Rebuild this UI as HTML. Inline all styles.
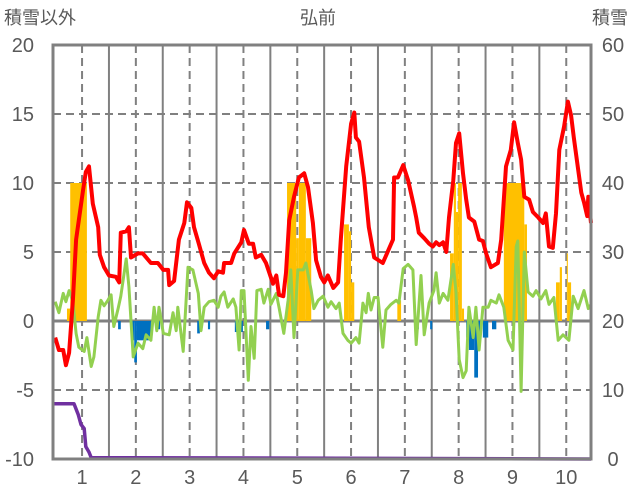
<!DOCTYPE html>
<html><head><meta charset="utf-8"><style>
html,body{margin:0;padding:0;background:#fff;}
svg{display:block;font-family:"Liberation Sans","Noto Sans CJK JP",sans-serif;}
</style></head><body>
<svg id="chart" width="636" height="501" viewBox="0 0 636 501">
<text x="40" y="24" font-size="18" text-anchor="middle" fill="#595959" font-family="'Liberation Sans','Noto Sans CJK JP',sans-serif">積雪以外</text>
<text x="318" y="24" font-size="18" text-anchor="middle" fill="#595959" font-family="'Liberation Sans','Noto Sans CJK JP',sans-serif">弘前</text>
<text x="610" y="24" font-size="18" text-anchor="middle" fill="#595959" font-family="'Liberation Sans','Noto Sans CJK JP',sans-serif">積雪</text>
<g id="grid"></g><g id="bars"></g><g id="lines"></g><g id="axes"></g>
</svg>
<script>
// ---- data ----
const xTicks = [1,2,3,4,5,6,7,8,9,10];
const leftTicks = [20,15,10,5,0,-5,-10];
const rightTicks = [60,50,40,30,20,10,0];
const redX = [0.50,0.57,0.65,0.70,0.76,0.83,0.89,0.94,1.02,1.07,1.13,1.20,1.30,1.33,1.41,1.50,1.63,1.69,1.72,1.82,1.87,1.91,2.04,2.13,2.28,2.41,2.51,2.60,2.62,2.71,2.80,2.90,2.95,3.03,3.08,3.17,3.27,3.36,3.45,3.53,3.62,3.64,3.77,3.83,3.96,4.01,4.10,4.18,4.23,4.33,4.42,4.48,4.55,4.61,4.66,4.74,4.79,4.85,4.94,5.03,5.13,5.20,5.29,5.35,5.44,5.50,5.57,5.67,5.76,5.81,5.91,6.00,6.06,6.09,6.15,6.24,6.33,6.43,6.59,6.69,6.78,6.80,6.87,6.97,7.06,7.17,7.21,7.26,7.36,7.45,7.52,7.58,7.64,7.71,7.77,7.82,7.90,7.95,8.01,8.08,8.14,8.19,8.29,8.38,8.45,8.51,8.60,8.73,8.79,8.88,8.97,9.03,9.10,9.16,9.22,9.31,9.38,9.48,9.57,9.62,9.68,9.75,9.81,9.87,9.96,10.03,10.09,10.14,10.28,10.33,10.39,10.41,10.46];
const redY = [-1.2,-2.1,-2.1,-3.2,-2.3,1.5,5.9,7.3,9.5,10.8,11.2,8.5,6.8,4.8,3.9,3.3,3.2,2.8,6.4,6.5,6.8,4.6,4.9,4.9,4.2,4.2,3.7,3.7,2.6,2.9,5.9,7.1,8.6,8.2,6.8,5.6,4.2,3.5,3.1,3.6,3.5,4.2,4.2,4.9,5.7,6.6,5.6,5.6,4.6,4.8,4.2,3.5,2.7,3.3,1.9,1.8,3.5,7.3,9.0,10.4,10.7,9.7,7.1,4.4,3.2,2.8,3.3,2.4,2.8,5.9,11.2,14.3,15.1,13.3,13.0,10.4,6.8,4.6,4.2,5.1,5.9,10.4,10.4,11.3,10.2,8.3,7.5,6.4,6.0,5.6,5.4,5.7,5.5,5.7,5.0,7.5,10.2,12.9,13.6,10.7,8.8,7.5,7.2,5.9,5.8,4.9,3.9,4.2,5.9,11.2,12.4,14.4,12.9,11.7,9.0,8.8,7.9,7.5,7.1,7.8,5.4,5.3,7.8,12.4,14.1,15.9,14.9,13.3,9.3,8.6,7.6,9.0,7.1];
const greenX = [0.50,0.57,0.65,0.70,0.76,0.83,0.89,0.94,1.04,1.09,1.17,1.22,1.30,1.35,1.41,1.48,1.54,1.59,1.67,1.72,1.82,1.87,1.95,2.04,2.13,2.19,2.28,2.34,2.39,2.43,2.51,2.62,2.69,2.75,2.78,2.88,2.97,3.06,3.16,3.21,3.27,3.36,3.45,3.53,3.58,3.64,3.71,3.81,3.86,3.92,3.96,4.01,4.09,4.14,4.20,4.25,4.33,4.38,4.46,4.51,4.61,4.66,4.75,4.83,4.88,4.94,5.01,5.11,5.16,5.26,5.31,5.39,5.48,5.57,5.63,5.72,5.78,5.85,5.94,6.00,6.09,6.15,6.22,6.28,6.32,6.37,6.43,6.50,6.59,6.65,6.74,6.84,6.89,6.97,7.06,7.15,7.21,7.30,7.36,7.45,7.54,7.58,7.64,7.71,7.80,7.90,7.95,8.01,8.08,8.14,8.19,8.27,8.32,8.38,8.45,8.55,8.60,8.70,8.75,8.84,8.92,9.01,9.07,9.10,9.16,9.22,9.29,9.38,9.44,9.53,9.62,9.68,9.77,9.85,9.94,10.05,10.13,10.22,10.28,10.33,10.41,10.46];
const greenY = [1.4,0.6,2.0,1.4,2.2,1.4,-0.9,-1.9,-2.2,-1.2,-3.3,-2.6,0.3,1.5,1.1,1.5,1.9,-0.4,0.9,1.8,4.5,2.5,-2.6,-1.6,-2.0,-1.0,-1.4,1.0,-0.7,1.0,-0.9,-1.0,0.6,-0.7,1.0,-2.2,3.9,3.7,2.0,-0.7,1.0,1.4,1.5,1.0,1.8,2.1,1.0,1.6,1.0,-2.1,2.2,2.2,-4.3,-0.4,-2.7,2.2,2.3,1.3,2.3,1.2,2.0,1.0,-0.9,1.5,3.7,-1.2,3.7,3.7,4.2,2.2,0.9,1.5,1.8,1.0,1.4,0.9,1.3,-0.9,-1.4,-1.6,-1.2,-1.6,1.3,0.6,2.0,0.8,1.7,1.7,-1.9,0.8,1.2,1.5,1.3,3.8,4.1,3.7,-1.7,3.3,-1.0,1.3,2.2,3.5,1.3,2.0,1.5,4.1,2.1,-2.8,-4.1,-3.6,1.0,-1.2,1.0,-2.1,1.0,1.0,1.5,1.3,1.9,1.0,-1.4,-2.1,5.4,5.8,-5.1,5.0,2.1,1.8,2.2,1.6,2.2,1.2,1.7,-1.4,-1.0,-1.4,1.8,0.9,1.6,2.2,0.9,1.2];
const snowX = [0.46,0.85,0.93,0.98,1.04,1.07,1.13,1.17,10.46];
const snowY = [8,8,6.4,5,4.4,1.8,1,0.2,0];
const orangeStart = [0.72,0.78,2.75,4.81,4.98,5.03,5.16,5.87,5.96,6.00,6.86,7.84,7.91,7.95,7.99,8.06,8.84,9.22,9.81,9.88,10.01,10.03];
const orangeEnd   = [0.78,1.09,2.78,4.98,5.03,5.16,5.26,5.96,6.00,6.06,6.93,7.91,7.95,7.99,8.06,8.10,9.22,9.27,9.88,9.92,10.03,10.09];
const orangeVal   = [0.9,10,0.3,10,6.0,10,6.0,7.0,6.5,2.8,1.5,4.9,10,7.9,10,0.9,10,7.0,2.8,3.9,4.9,2.8];
const blueStart = [1.67,1.93,1.97,2.02,2.41,3.14,3.34,3.84,4.42,7.23,7.47,8.14,8.19,8.29,8.36,8.45,8.62];
const blueEnd   = [1.72,1.97,2.02,2.28,2.45,3.19,3.38,3.99,4.48,7.26,7.51,8.19,8.29,8.36,8.40,8.55,8.70];
const blueVal   = [-0.6,-1.4,-3.0,-1.4,-0.6,-0.9,-0.6,-0.8,-0.6,-0.6,-0.6,-1.2,-2.1,-4.1,-2.1,-1.2,-0.6];

// ---- scales ----
const L=53, R=591, T=45, B=459;
const xMin=0.46, xMax=10.46;
const xs = v => L + (v-xMin)/(xMax-xMin)*(R-L);
const yl = v => T + (20-v)/30*(B-T);
const yr = v => T + (60-v)/60*(B-T);
const NS="http://www.w3.org/2000/svg";
function mk(parent, tag, attrs){const e=document.createElementNS(NS,tag);for(const k in attrs)e.setAttribute(k,attrs[k]);document.getElementById(parent).appendChild(e);return e;}

// grid
leftTicks.forEach(t=>{
  if(t===20||t===-10) return;
  const g=mk('grid','line',{x1:L,x2:R,y1:yl(t),y2:yl(t),stroke:'#808080','stroke-width':t===0?3:2,'stroke-dasharray':t===0?'':'8,5'});
  
  
});
xTicks.forEach(t=>{
  const d=mk('grid','line',{x1:xs(t),x2:xs(t),y1:T,y2:B,stroke:'#808080','stroke-width':2,'stroke-dasharray':'8,5'});
  
  
  if(t<10){
    const s=mk('grid','line',{x1:xs(t+0.5),x2:xs(t+0.5),y1:T,y2:B,stroke:'#808080','stroke-width':2});
    
    
  }
});
// bars
orangeVal.forEach((v,i)=>{
  const r=mk('bars','rect',{x:xs(orangeStart[i]),width:xs(orangeEnd[i])-xs(orangeStart[i]),y:yl(v),height:yl(0)-yl(v),fill:'#FFC000'});
  
  
});
blueVal.forEach((v,i)=>{
  const r=mk('bars','rect',{x:xs(blueStart[i]),width:xs(blueEnd[i])-xs(blueStart[i]),y:yl(0),height:yl(v)-yl(0),fill:'#0070C0'});
  
  
});
// lines
function pts(X,Y,f){return X.map((x,i)=>xs(x).toFixed(1)+','+f(Y[i]).toFixed(1)).join(' ');}
const gl=mk('lines','polyline',{points:pts(greenX,greenY,yl),fill:'none',stroke:'#92D050','stroke-width':3,'stroke-linejoin':'round'});


const rl=mk('lines','polyline',{points:pts(redX,redY,yl),fill:'none',stroke:'#FF0000','stroke-width':4,'stroke-linejoin':'round'});


const pl=mk('lines','polyline',{points:pts(snowX,snowY,yr),fill:'none',stroke:'#7030A0','stroke-width':3.5,'stroke-linejoin':'round'});


// frame
const fr=mk('axes','rect',{x:L,y:T,width:R-L,height:B-T,fill:'none',stroke:'#808080','stroke-width':3});


leftTicks.forEach(t=>{
  const e=mk('axes','text',{x:34,y:yl(t)+7,'font-size':20,'text-anchor':'end',fill:'#595959'});
  e.textContent=t;
  
  
});
rightTicks.forEach(t=>{
  const e=mk('axes','text',{x:613,y:yr(t)+7,'font-size':20,'text-anchor':'middle',fill:'#595959'});
  e.textContent=t;
  
  
});
xTicks.forEach(t=>{
  const e=mk('axes','text',{x:xs(t),y:484,'font-size':20,'text-anchor':'middle',fill:'#595959'});
  e.textContent=t;
  
  
});
</script>
</body></html>
